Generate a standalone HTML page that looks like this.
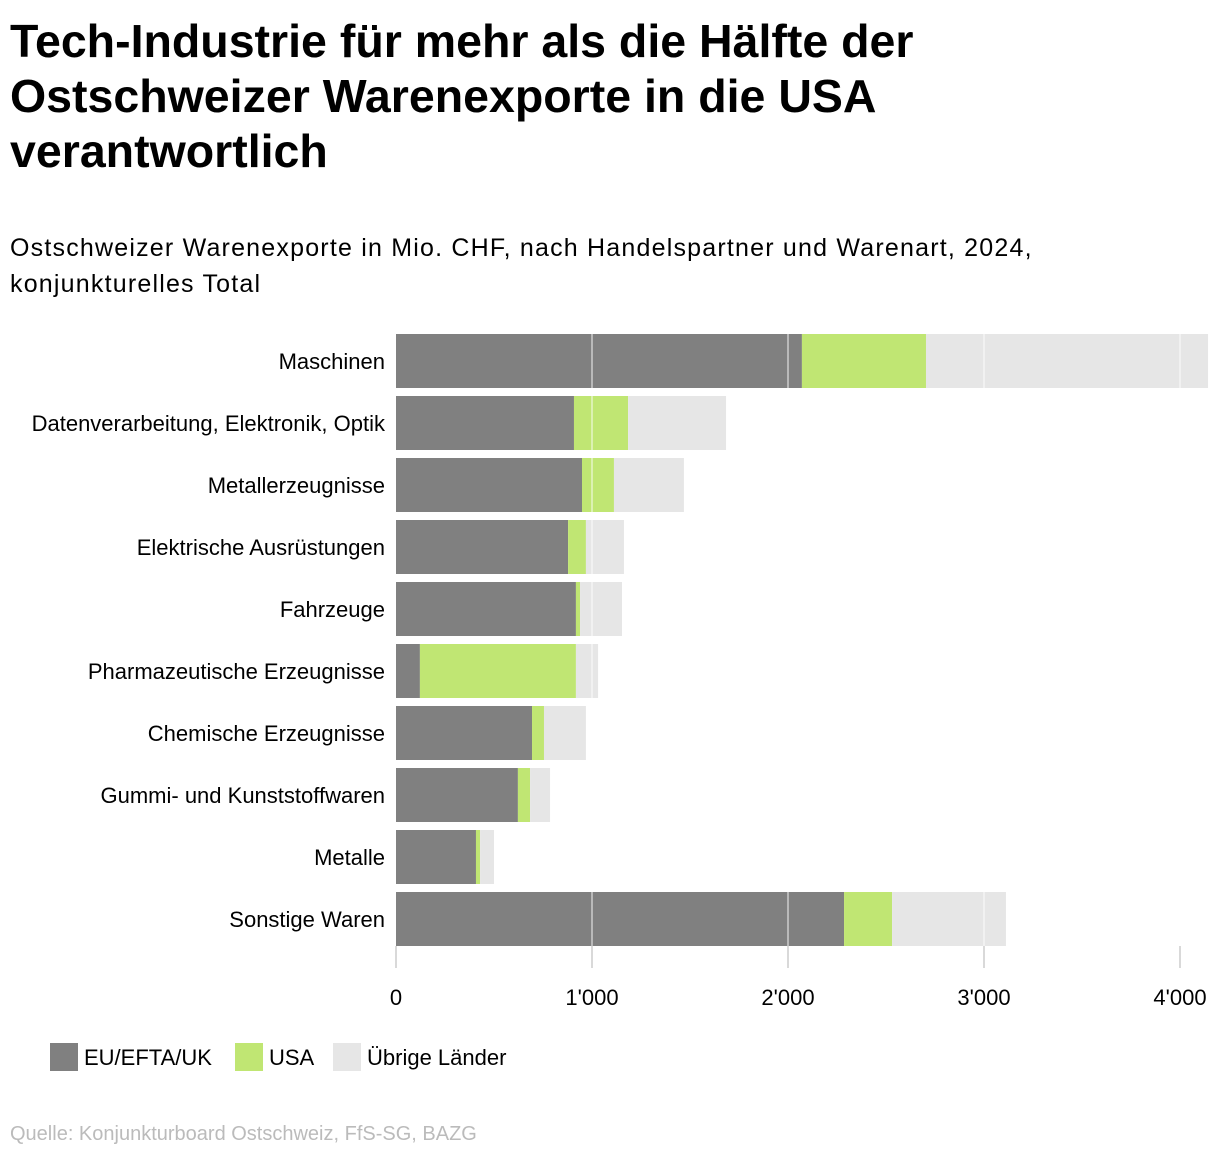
<!DOCTYPE html>
<html><head><meta charset="utf-8">
<style>
body{margin:0;background:#fff;width:1220px;height:1160px;overflow:hidden;font-family:"Liberation Sans",sans-serif;color:#000}
#title{position:absolute;left:10px;top:14px;font-size:46.5px;font-weight:bold;line-height:55px;letter-spacing:0px;margin:0;white-space:nowrap}
#sub{position:absolute;left:10px;top:230px;font-size:25px;line-height:36px;letter-spacing:1.2px;font-family:"Liberation Sans Narrow","Liberation Sans",sans-serif;margin:0;white-space:nowrap}
#src{position:absolute;left:10px;top:1123px;font-size:20px;color:#bbb;font-family:"Liberation Sans Narrow","Liberation Sans",sans-serif}
svg{position:absolute;left:0;top:0}
svg text{font-family:"Liberation Sans Narrow","Liberation Sans",sans-serif}
</style></head><body>
<h1 id="title">Tech-Industrie für mehr als die Hälfte der<br>Ostschweizer Warenexporte in die USA<br>verantwortlich</h1>
<p id="sub">Ostschweizer Warenexporte in Mio. CHF, nach Handelspartner und Warenart, 2024,<br>konjunkturelles Total</p>
<svg id="chart" width="1220" height="1160"></svg>
<div id="src">Quelle: Konjunkturboard Ostschweiz, FfS-SG, BAZG</div>
<script>
const categories=["Maschinen","Datenverarbeitung, Elektronik, Optik","Metallerzeugnisse","Elektrische Ausrüstungen","Fahrzeuge","Pharmazeutische Erzeugnisse","Chemische Erzeugnisse","Gummi- und Kunststoffwaren","Metalle","Sonstige Waren"];
const euValues=[2071,908,949,878,918,122,694,622,408,2286];
const usaValues=[633,276,163,91,21,796,61,62,21,245];
const otherValues=[1439,500,357,194,214,113,214,102,71,581];
const tickValues=[0,1000,2000,3000,4000];
const tickLabels=["0","1'000","2'000","3'000","4'000"];
const seriesNames=["EU/EFTA/UK","USA","Übrige Länder"];
const colors=["#808080","#c0e673","#e6e6e6"];
const NS="http://www.w3.org/2000/svg";
const svg=document.getElementById('chart');
const x0=396,pxPer=0.196,top0=334,step=62,bh=54;
const xs=v=>x0+v*pxPer;
const ys=i=>top0+i*step;
function mk(t,a){const e=document.createElementNS(NS,t);for(const k in a)e.setAttribute(k,a[k]);svg.appendChild(e);return e;}
const series=[euValues,usaValues,otherValues];
categories.forEach((c,i)=>{
  let acc=0;
  series.forEach((s,j)=>{
    const r=mk('rect',{x:xs(acc),y:ys(i),width:s[i]*pxPer,height:bh,fill:colors[j]});
    
    
    acc+=s[i];
  });
  const t=mk('text',{x:385,y:ys(i)+bh/2+8,'text-anchor':'end','font-size':22});
  t.textContent=c;
  
  
});
tickValues.forEach((v,k)=>{
  if(v>0){const g=mk('line',{x1:xs(v),x2:xs(v),y1:top0,y2:ys(categories.length-1)+bh,stroke:'#fff','stroke-opacity':0.45,'stroke-width':2});
  
  }
  const tk=mk('line',{x1:xs(v),x2:xs(v),y1:946,y2:968,stroke:'#ccc','stroke-width':1.5});
  
  
  const tl=mk('text',{x:xs(v),y:1005,'text-anchor':'middle','font-size':22});
  tl.textContent=tickLabels[k];
  
  
});
const lx=[50,235,333];
seriesNames.forEach((n,j)=>{
  const r=mk('rect',{x:lx[j],y:1043,width:28,height:28,fill:colors[j]});
  
  
  const t=mk('text',{x:lx[j]+34,y:1065,'font-size':22});
  t.textContent=n;
  
  
});
</script>
</body></html>
